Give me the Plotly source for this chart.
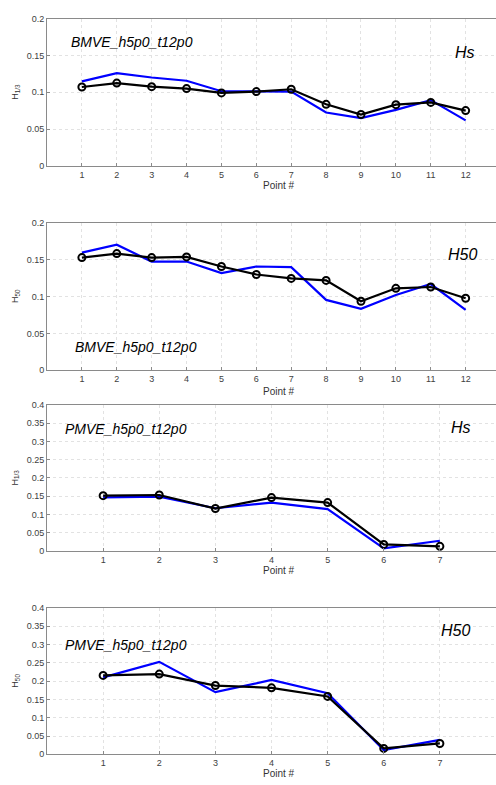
import plotly.graph_objects as go

# ---- data ----
pts12 = list(range(1, 13))
pts7 = list(range(1, 8))

bm_hs_black = [0.1071, 0.1124, 0.1076, 0.1049, 0.0991, 0.1009, 0.1040, 0.0836, 0.0698, 0.0831, 0.0862, 0.0751]
bm_hs_blue = [0.1147, 0.1258, 0.1200, 0.1156, 0.1013, 0.1013, 0.1009, 0.0724, 0.0649, 0.0760, 0.0893, 0.0618]

bm_h50_black = [0.1529, 0.1583, 0.1529, 0.1538, 0.1408, 0.1300, 0.1247, 0.1220, 0.0937, 0.1112, 0.1130, 0.0978]
bm_h50_blue = [0.1596, 0.1704, 0.1475, 0.1475, 0.1318, 0.1408, 0.1399, 0.0955, 0.0834, 0.1022, 0.1170, 0.0821]

pm_hs_black = [0.1514, 0.1532, 0.1162, 0.1460, 0.1324, 0.0180, 0.0126]
pm_hs_blue = [0.1468, 0.1486, 0.1170, 0.1324, 0.1144, 0.0072, 0.0279]

pm_h50_black = [0.2157, 0.2193, 0.1879, 0.1816, 0.1582, 0.0162, 0.0297]
pm_h50_blue = [0.2103, 0.2526, 0.1699, 0.2031, 0.1672, 0.0117, 0.0396]

yticks_a = [0, 0.05, 0.1, 0.15, 0.2]
ytext_a = ["0", "0.05", "0.1", "0.15", "0.2"]
yticks_b = [0, 0.05, 0.1, 0.15, 0.2, 0.25, 0.3, 0.35, 0.4]
ytext_b = ["0", "0.05", "0.1", "0.15", "0.2", "0.25", "0.3", "0.35", "0.4"]

W, H = 496, 785
FONT = "Liberation Sans, Arial, sans-serif"

panels = [
    dict(x=pts12, black=bm_hs_black, blue=bm_hs_blue, xr=[0, 12.87], xt=pts12,
         yr=[0, 0.2], yt=yticks_a, ytt=ytext_a, top=13.7, bot=163, ylab="H<sub>1/3</sub>",
         name="BMVE_h5p0_t12p0", nx=69, ny=37, tag="Hs", tx=465, ty=48, px=183),
    dict(x=pts12, black=bm_h50_black, blue=bm_h50_blue, xr=[0, 12.87], xt=pts12,
         yr=[0, 0.2], yt=yticks_a, ytt=ytext_a, top=220.7, bot=370, ylab="H<sub>50</sub>",
         name="BMVE_h5p0_t12p0", nx=73, ny=346, tag="H50", tx=462, ty=253, px=391),
    dict(x=pts7, black=pm_hs_black, blue=pm_hs_blue, xr=[0, 8.0], xt=pts7 + [8],
         yr=[0, 0.4], yt=yticks_b, ytt=ytext_b, top=405, bot=553, ylab="H<sub>1/3</sub>",
         name="PMVE_h5p0_t12p0", nx=63, ny=429, tag="Hs", tx=461, ty=428, px=573),
    dict(x=pts7, black=pm_h50_black, blue=pm_h50_blue, xr=[0, 8.0], xt=pts7 + [8],
         yr=[0, 0.4], yt=yticks_b, ytt=ytext_b, top=610.7, bot=759, ylab="H<sub>50</sub>",
         name="PMVE_h5p0_t12p0", nx=63, ny=648, tag="H50", tx=455, ty=634, px=778.5),
]

fig = go.Figure()
annotations = []
left = 47 / W

for i, p in enumerate(panels, start=1):
    xa = "x" if i == 1 else f"x{i}"
    ya = "y" if i == 1 else f"y{i}"
    fig.add_trace(go.Scatter(x=p["x"], y=p["blue"], mode="lines",
                             line=dict(color="#0000ff", width=2.2),
                             xaxis=xa, yaxis=ya, showlegend=False, cliponaxis=False))
    fig.add_trace(go.Scatter(x=p["x"], y=p["black"], mode="lines+markers",
                             line=dict(color="#000000", width=2.2),
                             marker=dict(symbol="circle-open", size=7, color="#000000",
                                         line=dict(width=2)),
                             xaxis=xa, yaxis=ya, showlegend=False, cliponaxis=False))
    dom_y = [1 - p["bot"] / H, 1 - p["top"] / H]
    axis_common = dict(showline=True, linecolor="#8a8a8a", linewidth=1,
                       showgrid=True, gridcolor="#e2e2e2", griddash="dot", gridwidth=1,
                       ticks="inside", ticklen=3, tickcolor="#8a8a8a",
                       tickfont=dict(family=FONT, size=9, color="#404040"),
                       zeroline=False)
    fig.update_layout(**{
        ("xaxis" if i == 1 else f"xaxis{i}"): dict(
            domain=[left, 1], anchor=ya, range=p["xr"], tickmode="array",
            tickvals=p["xt"], ticktext=[str(v) for v in p["xt"]], mirror=True,
            **axis_common),
        ("yaxis" if i == 1 else f"yaxis{i}"): dict(
            domain=dom_y, anchor=xa, range=p["yr"], tickmode="array",
            tickvals=p["yt"], ticktext=p["ytt"],
            **axis_common),
    })
    annotations.append(dict(text="Point #", x=279 / W, y=1 - p["px"] / H,
                            xref="paper", yref="paper", showarrow=False,
                            font=dict(family=FONT, size=10, color="#333333"),
                            xanchor="center", yanchor="middle"))
    annotations.append(dict(text=p["ylab"], x=15.5 / W, y=1 - ((p["top"] + p["bot"]) / 2) / H,
                            xref="paper", yref="paper", showarrow=False, textangle=-90,
                            font=dict(family=FONT, size=9, color="#333333"),
                            xanchor="center", yanchor="middle"))
    annotations.append(dict(text=f"<i>{p['name']}</i>", x=p["nx"] / W, y=1 - p["ny"] / H,
                            xref="paper", yref="paper", showarrow=False,
                            font=dict(family=FONT, size=14, color="#000000"),
                            xanchor="left", yanchor="middle"))
    annotations.append(dict(text=f"<i>{p['tag']}</i>", x=p["tx"] / W, y=1 - p["ty"] / H,
                            xref="paper", yref="paper", showarrow=False,
                            font=dict(family=FONT, size=16, color="#000000"),
                            xanchor="center", yanchor="middle"))

fig.update_layout(width=W, height=H, margin=dict(l=0, r=0, t=0, b=0),
                  paper_bgcolor="white", plot_bgcolor="white",
                  annotations=annotations)

fig.write_html("out.html", config={"displayModeBar": False},
               post_script="document.body.style.margin='0';document.body.style.overflow='hidden';")
